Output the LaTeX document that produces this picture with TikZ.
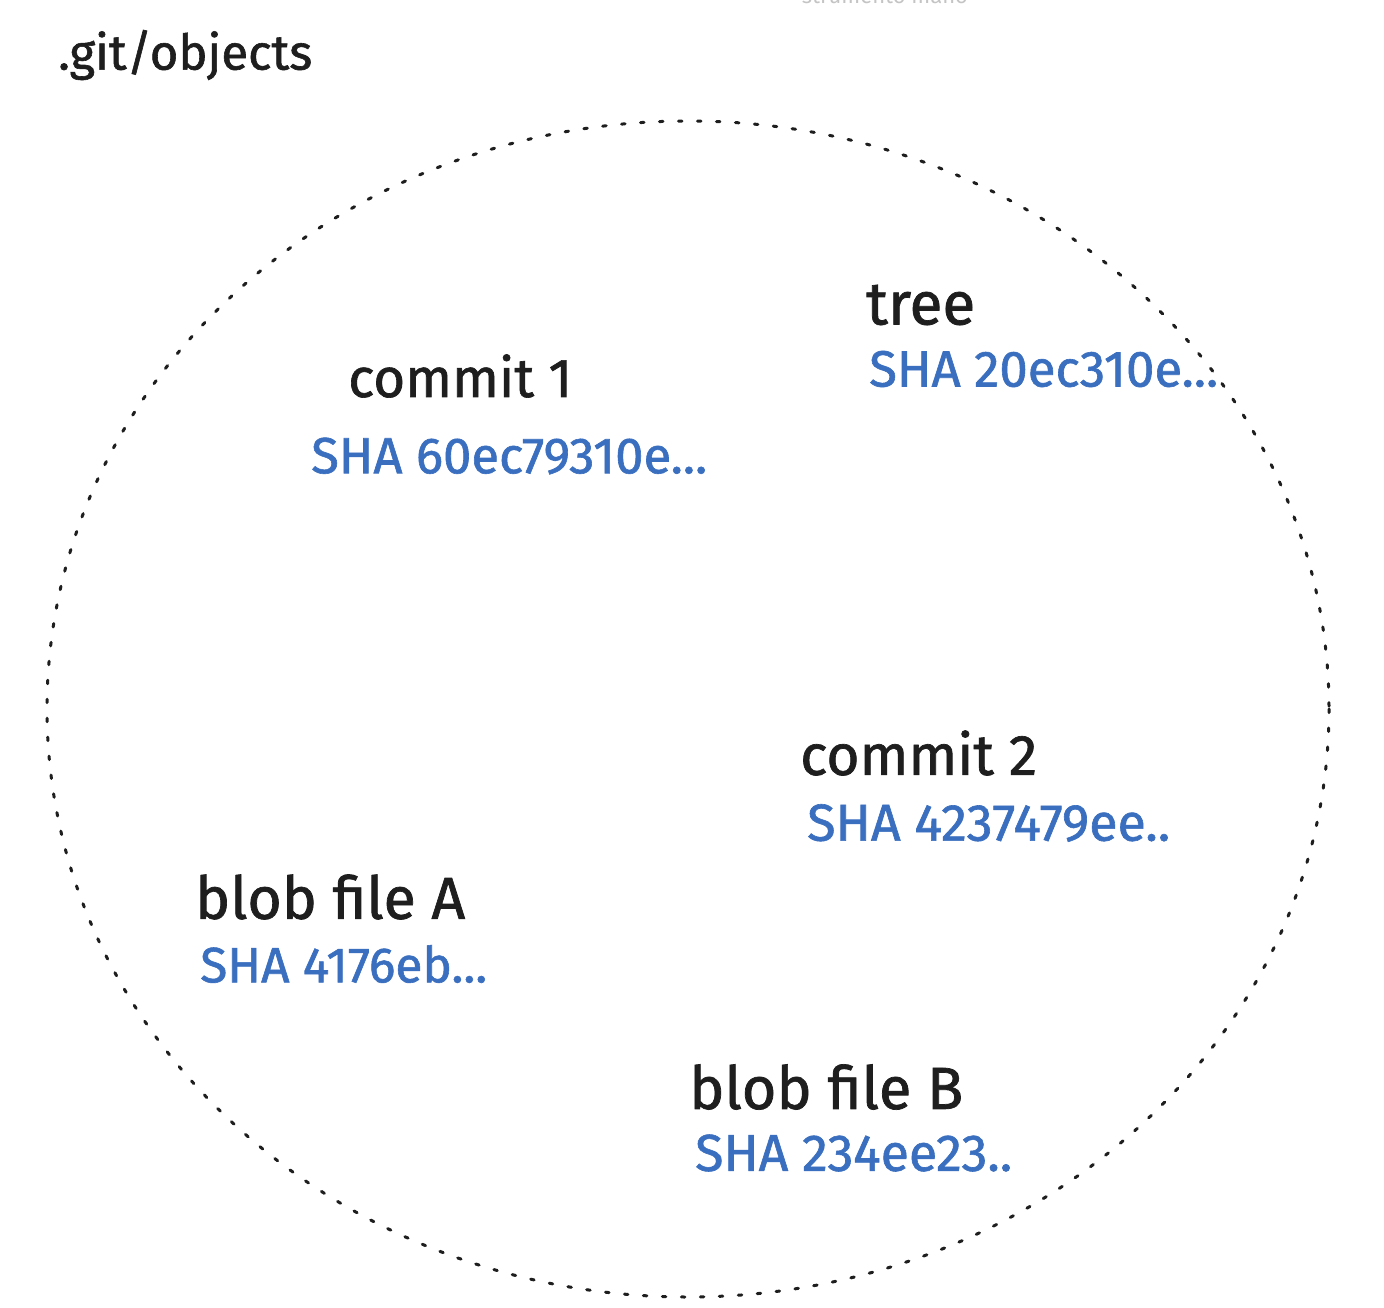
\documentclass[tikz,border=0pt]{standalone}
\usepackage{fontspec}
\setmainfont{Fira Sans}
\newfontfamily\heavy[FakeBold=1.2]{Fira Sans}
\usepackage{graphicx}
\definecolor{ink}{HTML}{1E1E1E}
\definecolor{shablue}{HTML}{3A6FC0}
\definecolor{faint}{HTML}{C4C4C4}
\newcommand{\fitw}[2]{\resizebox{#1pt}{!}{#2}}
\begin{document}
\begin{tikzpicture}[x=1pt,y=-1pt,
  lbl/.style={anchor=west,text=ink,inner sep=0pt,font=\heavy\fontsize{40}{44}\selectfont},
  sha/.style={anchor=west,text=shablue,inner sep=0pt,font=\heavy\fontsize{40}{44}\selectfont},
  boundary/.style={draw=ink,line width=3pt,dash pattern=on 3.5pt off 15.5pt,line cap=round}]
\useasboundingbox (0,0) rectangle (1384,1308);
\fill[white] (0,0) rectangle (1384,1308);
\node[anchor=center,text=faint,inner sep=0pt,font=\fontsize{22}{24}\selectfont] (hint) at (885,-4) {strumento mano};
\draw[boundary] (688,709) ellipse [x radius=641, y radius=588];
\node[lbl] (objs) at (58,55) {\fitw{254}{.git/objects}};
\node[lbl] (tree) at (866,305) {\fitw{109}{tree}};
\node[sha] (treesha) at (869,369) {\fitw{349}{SHA 20ec310e...}};
\node[lbl] (c1) at (348,376) {\fitw{224}{commit 1}};
\node[sha] (c1sha) at (311,456) {\fitw{396}{SHA 60ec79310e...}};
\node[lbl] (c2) at (800,753) {\fitw{237}{commit 2}};
\node[sha] (c2sha) at (807,823) {\fitw{363}{SHA 4237479ee..}};
\node[lbl] (ba) at (195,897) {\fitw{270}{blob file A}};
\node[sha] (basha) at (200,964) {\fitw{287}{SHA 4176eb...}};
\node[lbl] (bb) at (689,1087) {\fitw{274}{blob file B}};
\node[sha] (bbsha) at (695,1153) {\fitw{317}{SHA 234ee23..}};
\end{tikzpicture}
\end{document}
